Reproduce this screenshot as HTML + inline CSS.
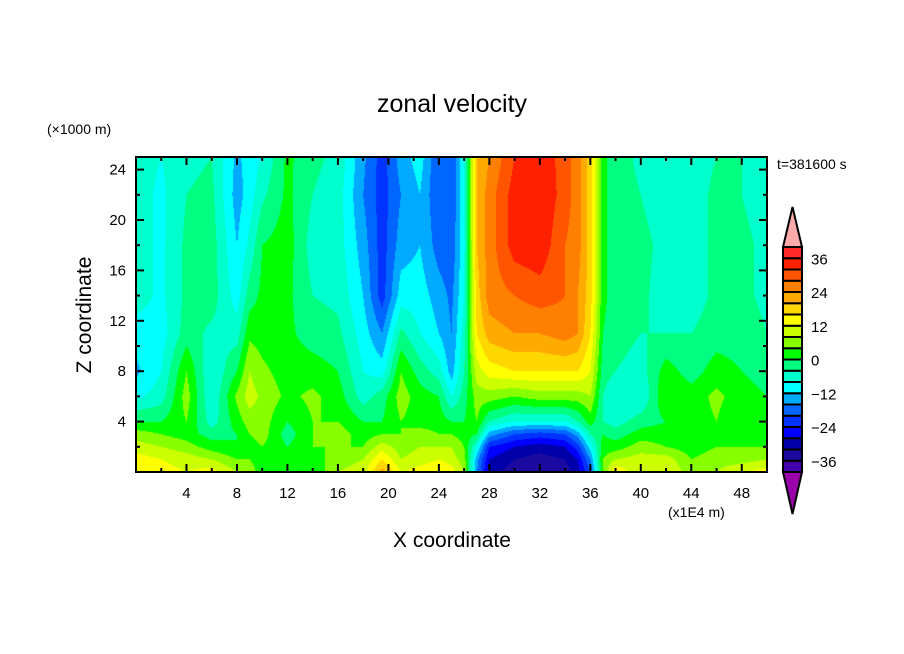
<!DOCTYPE html>
<html><head><meta charset="utf-8">
<style>
html,body{margin:0;padding:0;background:#fff;}
#wrap{position:relative;width:904px;height:654px;overflow:hidden;font-family:"Liberation Sans","DejaVu Sans",sans-serif;}
svg{position:absolute;left:0;top:0;}
canvas{position:absolute;left:136px;top:157px;}
</style></head>
<body>
<div id="wrap">
<canvas id="cv" width="631" height="315"></canvas>
<svg id="sv" width="904" height="654"></svg>
</div>
<script>
// ---- data ----
const xCoords = [0,2,4,6,8,9,10,12,14,16,18,19.5,21,22.5,24,25,26,27,28,30,32,34,35,36,37,38,40,42,44,46,48,50];
const zCoords = [0,1,2,3,4,6,8,11,14,18,22,25];
// each column: values at zCoords (bottom to top)
const uCol0  = [16,14,10,6,0,-9,-13,-10,-6,-6,-6,-6];
const uCol1  = [14,12,8,4,0,-6,-8,-10,-9,-9,-9,-8];
const uCol2  = [12,10,6,2,4,6,4,-2,-3,-3,-4,-5];
const uCol3  = [14,8,2,-2,-6,-8,-8,-5,-2,-2,-3,-4];
const uCol4  = [8,4,0,0,2,5,0,-6,-10,-12,-14,-13];
const uCol5  = [6,4,2,4,6,10,8,3,-2,-7,-10,-10];
const uCol6  = [2,2,4,6,6,7,5,2,1,0,-5,-8];
const uCol7  = [4,2,0,-2,0,3,2,1,1,2,1,1];
const uCol8  = [0,2,4,4,4,5,2,-2,-4,-6,-4,-3];
const uCol9  = [8,6,4,6,4,2,0,-3,-5,-6,-6,-5];
const uCol10 = [10,8,4,2,0,-6,-8,-10,-12,-14,-16,-15];
const uCol11 = [22,16,10,4,0,-2,-10,-16,-22,-22,-22,-22];
const uCol12 = [12,8,6,4,4,6,4,-3,-10,-14,-16,-14];
const uCol13 = [14,10,8,6,2,2,-2,-8,-10,-12,-12,-10];
const uCol14 = [16,12,8,4,2,0,-6,-12,-14,-18,-20,-20];
const uCol15 = [14,10,8,4,0,-8,-14,-16,-17,-19,-20,-20];
const uCol16 = [8,6,4,2,0,-2,-4,-6,-8,-9,-8,-8];
const uCol17 = [-16,-14,-8,0,4,6,10,16,18,20,20,20];
const uCol18 = [-30,-28,-24,-14,-4,6,14,22,26,26,26,24];
const uCol19 = [-34,-32,-28,-20,-8,4,16,24,28,34,34,32];
const uCol20 = [-36,-34,-30,-22,-8,6,16,24,30,35,36,35];
const uCol21 = [-34,-32,-28,-20,-8,6,16,26,28,28,30,30];
const uCol22 = [-30,-28,-22,-14,-4,6,16,24,24,26,26,26];
const uCol23 = [-20,-16,-10,-4,2,8,12,16,18,18,18,18];
const uCol24 = [4,4,2,0,-4,-4,-2,0,1,1,1,1];
const uCol25 = [16,8,2,-2,-6,-8,-4,-2,-2,-2,-2,-2];
const uCol26 = [8,10,6,2,-2,-8,-6,-4,-3,-3,-4,-5];
const uCol27 = [12,10,4,2,0,4,2,-4,-6,-5,-6,-6];
const uCol28 = [6,4,2,0,2,2,-2,-4,-6,-6,-6,-6];
const uCol29 = [8,6,4,2,4,5,2,-2,-3,-3,-3,-4];
const uCol30 = [12,6,4,2,0,2,0,-2,-3,-3,-4,-4];
const uCol31 = [14,8,4,2,0,0,-2,-4,-5,-5,-6,-6];
const levelColors = ["#4400aa","#1a0aa0","#0000aa","#0000ff","#0033ff","#0066ff","#00aaff","#00ffff","#00ffcc","#00ff80","#00ff00","#88ff00","#ccff00","#ffff00","#ffd700","#ffaa00","#ff7f00","#ff5500","#ff2000","#ff2a2a"];
const cbLabels = [36,24,12,0,-12,-24,-36];
const xTickLabels = [4,8,12,16,20,24,28,32,36,40,44,48];
const yTickLabels = [4,8,12,16,20,24];

const grid = [uCol0,uCol1,uCol2,uCol3,uCol4,uCol5,uCol6,uCol7,uCol8,uCol9,uCol10,uCol11,uCol12,uCol13,uCol14,uCol15,uCol16,uCol17,uCol18,uCol19,uCol20,uCol21,uCol22,uCol23,uCol24,uCol25,uCol26,uCol27,uCol28,uCol29,uCol30,uCol31];

// ---- axes ----
const PX0=136, PX1=767, PY0=472, PY1=157, XMAX=50, ZMAX=25;
const xs = v => PX0 + v*(PX1-PX0)/XMAX;
const ys = v => PY0 - v*(PY0-PY1)/ZMAX;

function seg(arr,v){let i=0;while(i<arr.length-2&&v>arr[i+1])i++;const t=(v-arr[i])/(arr[i+1]-arr[i]);return [i,Math.max(0,Math.min(1,t))];}
function val(x,z){const [i,tx]=seg(xCoords,x);const [j,tz]=seg(zCoords,z);
  const a=grid[i][j],b=grid[i+1][j],c=grid[i][j+1],d=grid[i+1][j+1];
  return (a*(1-tx)+b*tx)*(1-tz)+(c*(1-tx)+d*tx)*tz;}
function colorFor(v){if(v<-40)return "#9900aa";if(v>=40)return "#ffaaaa";return levelColors[Math.floor((v+40)/4)];}

const cv=document.getElementById('cv');const ctx=cv.getContext('2d');
const W=cv.width,H=cv.height;
for(let py=0;py<H;py++){
  for(let px=0;px<W;px++){
    const x=(px+0.5)/W*XMAX, z=(H-py-0.5)/H*ZMAX;
    ctx.fillStyle=colorFor(val(x,z));ctx.fillRect(px,py,1,1);
  }
}

const NS="http://www.w3.org/2000/svg";const sv=document.getElementById('sv');
function mk(tag,attrs,parent){const e=document.createElementNS(NS,tag);for(const k in attrs)e.setAttribute(k,attrs[k]);(parent||sv).appendChild(e);return e;}

const frame=mk('rect',{x:PX0,y:PY1,width:PX1-PX0,height:PY0-PY1,fill:'none',stroke:'#000','stroke-width':2});



for(let v=2;v<XMAX;v+=2){const maj=v%4===0,L=maj?8:4;
  const t1=mk('line',{x1:xs(v),x2:xs(v),y1:PY0,y2:PY0-L,stroke:'#000','stroke-width':2});
  
  
  const t2=mk('line',{x1:xs(v),x2:xs(v),y1:PY1,y2:PY1+L,stroke:'#000','stroke-width':2});
  
  }
for(let v=2;v<ZMAX;v+=2){const maj=v%4===0,L=maj?8:4;
  const t1=mk('line',{x1:PX0,x2:PX0+L,y1:ys(v),y2:ys(v),stroke:'#000','stroke-width':2});
  
  
  const t2=mk('line',{x1:PX1,x2:PX1-L,y1:ys(v),y2:ys(v),stroke:'#000','stroke-width':2});
  
  }
xTickLabels.forEach(v=>{const t=mk('text',{x:xs(v),y:498,'text-anchor':'middle','font-size':15});t.textContent=v;
  
  });
yTickLabels.forEach(v=>{const t=mk('text',{x:126,y:ys(v)+5,'text-anchor':'end','font-size':15});t.textContent=v;
  
  });

function txt(s,attrs,name){const t=mk('text',attrs);t.textContent=s;
  
  return t;}
txt('zonal velocity',{x:452,y:112,'text-anchor':'middle','font-size':25},'chart-title');
txt('(×1000 m)',{x:47,y:134,'font-size':14},'y-axis-unit');
txt('X coordinate',{x:452,y:547,'text-anchor':'middle','font-size':21},'x-axis-title');
txt('Z coordinate',{x:0,y:0,'text-anchor':'middle','font-size':21,transform:'translate(91,315) rotate(-90)'},'y-axis-title');
txt('(x1E4 m)',{x:668,y:517,'font-size':14},'x-axis-unit');
txt('t=381600 s',{x:777,y:169,'font-size':14},'time-label');

// colorbar
const CBX=783,CBW=19,CBT=247,CBB=472,BH=(CBB-CBT)/20;
const up=mk('polygon',{points:`${CBX},${CBT} ${CBX+CBW/2},207 ${CBX+CBW},${CBT}`,fill:'#ffaaaa',stroke:'#000','stroke-width':2});


const dn=mk('polygon',{points:`${CBX},${CBB} ${CBX+CBW/2},514 ${CBX+CBW},${CBB}`,fill:'#9900aa',stroke:'#000','stroke-width':2});


levelColors.forEach((c,i)=>{const r=mk('rect',{x:CBX,y:CBB-(i+1)*BH,width:CBW,height:BH,fill:c,stroke:'#000','stroke-width':2});
  
  });
cbLabels.forEach(v=>{const y=CBB-((v+40)/4)*BH;const t=mk('text',{x:811,y:y+6,'font-size':15});t.textContent=v<0?'−'+(-v):v;
  
  });
</script>
</body></html>
